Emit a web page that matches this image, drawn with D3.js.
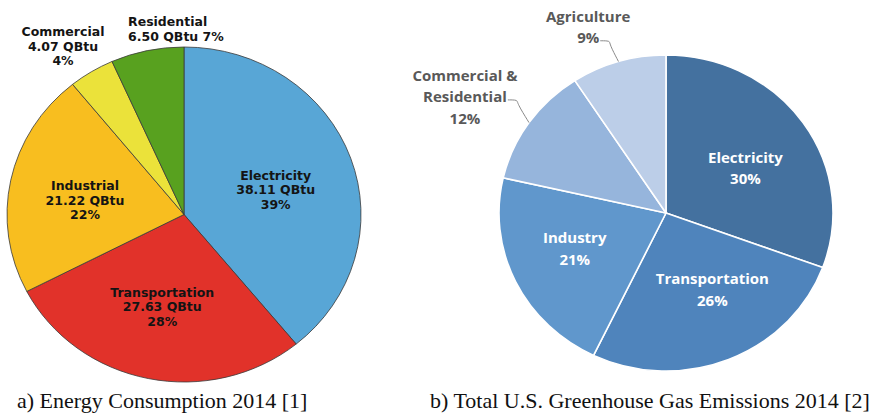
<!DOCTYPE html>
<html>
<head>
<meta charset="utf-8">
<script src="https://cdn.jsdelivr.net/npm/d3@7"></script>
<style>
  body { margin: 0; background: #fff; }
  svg { display: block; }
</style>
</head>
<body>
<div id="chart"></div>
<script>
// a) energy consumption 2014 (QBtu)
const energyCategories = ['Electricity', 'Transportation', 'Industrial', 'Commercial', 'Residential']
const energyValues = [38.11, 27.63, 21.22, 4.07, 6.50]
const energyColors = ['#58a6d6', '#e1322a', '#f8be1f', '#ebe23a', '#58a11f']

// b) total U.S. greenhouse gas emissions 2014 (% share)
const emissionCategories = ['Electricity', 'Transportation', 'Industry', 'Commercial & Residential', 'Agriculture']
const emissionShares = [30, 26, 21, 12, 9]
const emissionColors = ['#44719f', '#4f84bc', '#6097cc', '#96b5dc', '#bccee8']

const captions = ['a) Energy Consumption 2014 [1]', 'b) Total U.S. Greenhouse Gas Emissions 2014 [2]']

const width = 869
const height = 415

const svg = d3.select('#chart')
  .append('svg')
  .attr('width', width)
  .attr('height', height)

// pies are slightly squashed vertically in the original figure
function ellipsePoint(c, angle, f) {
  return [c.cx + f * c.rx * Math.sin(angle), c.cy - f * c.ry * Math.cos(angle)]
}

function drawSlices(c, slices, colors, stroke, strokeWidth) {
  const arc = d3.arc().innerRadius(0).outerRadius(c.rx)
  svg.append('g')
    .attr('transform', 'translate(' + c.cx + ',' + c.cy + ') scale(1,' + (c.ry / c.rx) + ')')
    .selectAll('path')
    .data(slices)
    .enter()
    .append('path')
    .attr('d', arc)
    .attr('fill', (d, i) => colors[i])
    .attr('stroke', stroke)
    .attr('stroke-width', strokeWidth)
    .attr('vector-effect', 'non-scaling-stroke')
    .attr('stroke-linejoin', 'round')
}

function textBlock(x, y, lines, opts) {
  const t = svg.append('text')
    .attr('font-family', opts.font)
    .attr('font-size', opts.size)
    .attr('font-weight', opts.weight)
    .attr('fill', opts.color)
    .attr('text-anchor', opts.anchor || 'middle')
  const n = lines.length
  lines.forEach((line, i) => {
    t.append('tspan')
      .attr('x', x)
      .attr('y', y + (i - (n - 1) / 2) * opts.lh + opts.base)
      .text(line)
  })
  return t
}

// ---------- a) energy consumption ----------
const pieA = { cx: 184, cy: 214.5, rx: 177, ry: 167.5 }
const energyTotal = d3.sum(energyValues)
const slicesA = d3.pie().sort(null)(energyValues)
drawSlices(pieA, slicesA, energyColors, '#3a3a3a', 0.8)

// label radius factor and nudges
const energyLabelLayout = [
  { f: 0.58, dx: -5, dy: 8 },
  { f: 0.58, dx: -1, dy: -3 },
  { f: 0.58, dx: 1.5, dy: 5.5 },
  { f: 1.2, dx: -10, dy: 3 },
  { f: 1.1, dx: -15.5, dy: -5.5, anchor: 'start' }
]
const energyFont = { font: 'DejaVu Sans', size: 12.5, weight: 'bold', color: '#141414', lh: 14.5, base: 4.5 }

slicesA.forEach((s, i) => {
  const mid = (s.startAngle + s.endAngle) / 2
  const lay = energyLabelLayout[i]
  const p = ellipsePoint(pieA, mid, lay.f)
  const pct = Math.round(energyValues[i] / energyTotal * 100) + '%'
  const qbtu = energyValues[i].toFixed(2) + ' QBtu'
  const lines = lay.anchor === 'start'
    ? [energyCategories[i], qbtu + ' ' + pct]
    : [energyCategories[i], qbtu, pct]
  textBlock(p[0] + lay.dx, p[1] + lay.dy, lines, Object.assign({}, energyFont, { anchor: lay.anchor }))
})

// ---------- b) greenhouse gas emissions ----------
const pieB = { cx: 666, cy: 213, rx: 167, ry: 158 }
const slicesB = d3.pie().sort(null)(emissionShares)
drawSlices(pieB, slicesB, emissionColors, '#ffffff', 1.6)

const emissionLabelLayout = [
  { inside: true, dx: 0, dy: 7.5, lines: ['Electricity'] },
  { inside: true, dx: 10, dy: -8, lines: ['Transportation'] },
  { inside: true, dx: -4, dy: -4, lines: ['Industry'] },
  { inside: false, shift: 4, lines: ['Commercial &', 'Residential'], align: 1 },
  { inside: false, shift: -0.5, lines: ['Agriculture'], align: 1 }
]
const emissionFont = { font: 'Open Sans', size: 15, weight: 'bold', lh: 21.5, base: 5.3 }

slicesB.forEach((s, i) => {
  const mid = (s.startAngle + s.endAngle) / 2
  const lay = emissionLabelLayout[i]
  const lines = lay.lines.concat([emissionShares[i] + '%'])
  if (lay.inside) {
    const p = ellipsePoint(pieB, mid, 0.58)
    textBlock(p[0] + lay.dx, p[1] + lay.dy, lines, Object.assign({}, emissionFont, { color: '#ffffff' }))
  } else {
    const a = mid + lay.shift * Math.PI / 180
    const p0 = ellipsePoint(pieB, mid, 1.0)
    const p1 = ellipsePoint(pieB, a, 1.14)
    const p2 = [p1[0] - 10, p1[1]]
    svg.append('path')
      .attr('d', d3.line().curve(d3.curveBasis)([p0, [p1[0] - 1, p1[1] + 3], p1, p2]))
      .attr('fill', 'none')
      .attr('stroke', '#8a8a8a')
      .attr('stroke-width', 1)
    // the leader meets the right end of one line of the label
    const n = lines.length
    const t = textBlock(0, 0, lines, Object.assign({}, emissionFont, { color: '#595959' }))
    const w = t.selectAll('tspan').nodes()[lay.align].getComputedTextLength()
    const bx = p2[0] - 1 - w / 2
    const by = p2[1] + 2.5 - (lay.align - (n - 1) / 2) * emissionFont.lh - emissionFont.base
    t.selectAll('tspan')
      .attr('x', bx)
      .attr('y', (d, j) => by + (j - (n - 1) / 2) * emissionFont.lh + emissionFont.base)
  }
})

// ---------- captions ----------
svg.selectAll('.caption')
  .data(captions)
  .enter()
  .append('text')
  .attr('class', 'caption')
  .attr('x', (d, i) => i === 0 ? 17 : 430)
  .attr('y', 408)
  .attr('font-family', 'Liberation Serif')
  .attr('font-size', 22)
  .attr('fill', '#111')
  .text(d => d)
</script>
</body>
</html>
